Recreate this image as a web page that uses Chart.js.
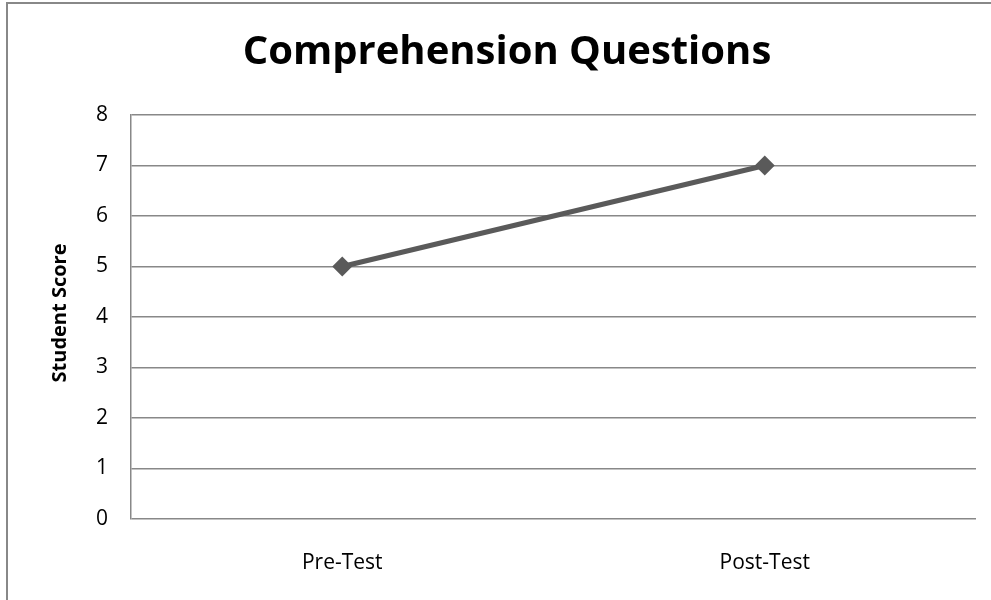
<!DOCTYPE html>
<html>
<head>
<meta charset="utf-8">
<script src="https://cdn.jsdelivr.net/npm/chart.js@4/dist/chart.umd.min.js"></script>
<style>
  html, body { margin: 0; padding: 0; background: #fff; overflow: hidden; }
  #wrap { position: relative; width: 991px; height: 600px; }
  #frame { position: absolute; left: 6px; top: 2px; width: 1100px; height: 700px; border: 2px solid #888; box-sizing: border-box; pointer-events: none; }
  canvas { position: absolute; left: 0; top: 0; }
</style>
</head>
<body>
<div id="wrap">
  <canvas id="c" width="991" height="600"></canvas>
  <div id="frame"></div>
</div>
<script>
const chartTitle = 'Comprehension Questions';
const yAxisTitle = 'Student Score';
const categories = ['Pre-Test', 'Post-Test'];
const scores = [5, 7];
const yMin = 0;
const yMax = 8;
const yStep = 1;

const FONT = "'Open Sans', 'Noto Sans', sans-serif";

const titlesPlugin = {
  id: 'titles',
  afterDraw(chart) {
    const ctx = chart.ctx;
    ctx.save();
    ctx.fillStyle = '#000';
    ctx.textAlign = 'center';
    ctx.textBaseline = 'middle';
    ctx.font = 'bold 40px ' + FONT;
    ctx.fillText(chartTitle, 507, 53);
    ctx.translate(60, 313);
    ctx.rotate(-Math.PI / 2);
    ctx.font = 'bold 20px ' + FONT;
    ctx.fillText(yAxisTitle, 0, 0);
    ctx.restore();
  }
};

new Chart(document.getElementById('c'), {
  type: 'line',
  data: {
    labels: categories,
    datasets: [{
      data: scores,
      borderColor: '#5a5a5a',
      backgroundColor: '#5a5a5a',
      borderWidth: 5,
      pointStyle: 'rectRot',
      pointRadius: 10,
      pointHoverRadius: 10,
      pointBorderWidth: 0,
      tension: 0
    }]
  },
  options: {
    responsive: false,
    animation: false,
    devicePixelRatio: 1,
    layout: { padding: { left: 0, top: 115, right: 15, bottom: 0 } },
    plugins: {
      legend: { display: false },
      title: { display: false },
      tooltip: { enabled: false }
    },
    scales: {
      x: {
        offset: true,
        grid: { display: false, drawTicks: false },
        border: { display: false },
        ticks: { color: '#000', font: { family: FONT, size: 21 }, padding: 31 },
        afterFit(s) { s.height = 81; }
      },
      y: {
        min: yMin,
        max: yMax,
        ticks: { stepSize: yStep, color: '#000', font: { family: FONT, size: 21 }, padding: 23 },
        grid: { color: '#888', lineWidth: 1.5, drawTicks: false },
        border: { display: true, color: '#888', width: 1.5 },
        afterFit(s) { s.width = 131; }
      }
    }
  },
  plugins: [titlesPlugin]
});
</script>
</body>
</html>
